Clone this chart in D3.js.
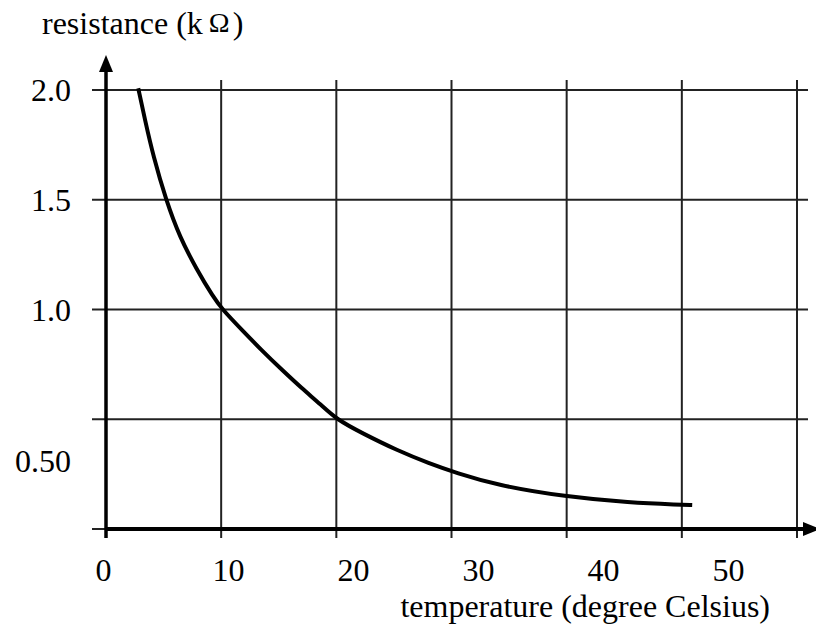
<!DOCTYPE html>
<html>
<head>
<meta charset="utf-8">
<script src="https://cdn.jsdelivr.net/npm/d3@7"></script>
<style>
  body { margin: 0; background: #fff; }
  text { font-family: "Liberation Serif", "Times New Roman", serif; fill: #000; }
</style>
</head>
<body>
<div id="chart"></div>
<script>
const width = 816;
const height = 627;

// curve (temperature in grid units, resistance in kOhm)
const temps = [2.8, 3.4, 4.1, 5.2, 6.4, 7.9, 9.3, 10.1, 11.8, 13.5, 15.3, 17.0, 18.7, 20.0, 22.3, 25.2, 28.1, 30.4, 33.9, 39.9, 45.5, 49.8, 50.9];
const resist = [2.008, 1.86, 1.70, 1.50, 1.33, 1.18, 1.058, 1.0, 0.907, 0.815, 0.724, 0.641, 0.565, 0.50, 0.435, 0.36, 0.298, 0.256, 0.20, 0.147, 0.12, 0.111, 0.109];

// grid lines
const gridTemps = [0, 10, 20, 30, 40, 50, 60];
const gridRes = [0, 0.5, 1.0, 1.5, 2.0];

// tick labels (the printed labels sit slightly off the grid)
const xTickValues = [0, 10, 20, 30, 40, 50];
const yTickValues = [2.0, 1.5, 1.0, 0.31];
const yTickLabels = ["2.0", "1.5", "1.0", "0.50"];

const svg = d3.select("#chart")
    .append("svg")
    .attr("width", width)
    .attr("height", height);

const x = d3.scaleLinear().domain([0, 60]).range([106, 797]);
const y = d3.scaleLinear().domain([0, 2.0]).range([529, 90]);
const xLabel = d3.scaleLinear().domain([0, 50]).range([103, 728]);

// grid
svg.append("g")
    .selectAll("line")
    .data(gridTemps)
    .join("line")
    .attr("x1", d => x(d))
    .attr("x2", d => x(d))
    .attr("y1", 80)
    .attr("y2", 538)
    .attr("stroke", "#222")
    .attr("stroke-width", 2);

svg.append("g")
    .selectAll("line")
    .data(gridRes)
    .join("line")
    .attr("x1", 92)
    .attr("x2", 808)
    .attr("y1", d => y(d))
    .attr("y2", d => y(d))
    .attr("stroke", "#222")
    .attr("stroke-width", 2);

// axes with arrows
svg.append("line")
    .attr("x1", x(0)).attr("x2", x(0))
    .attr("y1", 538).attr("y2", 68)
    .attr("stroke", "#000")
    .attr("stroke-width", 3.5);
svg.append("path")
    .attr("d", `M${x(0)},55 L${x(0) - 7},72 L${x(0) + 7},72 Z`)
    .attr("fill", "#000");

svg.append("line")
    .attr("x1", x(0)).attr("x2", 806)
    .attr("y1", y(0)).attr("y2", y(0))
    .attr("stroke", "#000")
    .attr("stroke-width", 4);
svg.append("path")
    .attr("d", `M820,${y(0)} L803,${y(0) - 7} L803,${y(0) + 7} Z`)
    .attr("fill", "#000");

// x tick labels
const xAxis = svg.append("g")
    .attr("transform", "translate(0,558)")
    .call(d3.axisBottom(xLabel).tickValues(xTickValues).tickSize(0).tickPadding(0));
xAxis.select(".domain").remove();
xAxis.selectAll("text")
    .attr("dy", "0.71em")
    .style("font-family", "'Liberation Serif', serif")
    .style("font-size", "32px")
    .attr("fill", "#000");

// y tick labels
svg.append("g")
    .selectAll("text")
    .data(yTickValues)
    .join("text")
    .attr("x", 71)
    .attr("y", d => y(d))
    .attr("dy", "0.35em")
    .attr("text-anchor", "end")
    .style("font-size", "32px")
    .text((d, i) => yTickLabels[i]);

// axis titles
const yTitle = svg.append("text")
    .attr("x", 42)
    .attr("y", 34)
    .style("font-size", "32px");
yTitle.append("tspan").text("resistance (k");
yTitle.append("tspan").attr("dx", 6).attr("dy", -2).style("font-size", "28px").text("Ω");
yTitle.append("tspan").attr("dx", 3).attr("dy", 2).text(")");

svg.append("text")
    .attr("x", 770)
    .attr("y", 617)
    .attr("text-anchor", "end")
    .style("font-size", "32px")
    .text("temperature (degree Celsius)");

// curve
const line = d3.line()
    .x((d, i) => x(temps[i]))
    .y((d, i) => y(resist[i]))
    .curve(d3.curveBasis);

svg.append("path")
    .datum(temps)
    .attr("d", line)
    .attr("fill", "none")
    .attr("stroke", "#000")
    .attr("stroke-width", 4);
</script>
</body>
</html>
